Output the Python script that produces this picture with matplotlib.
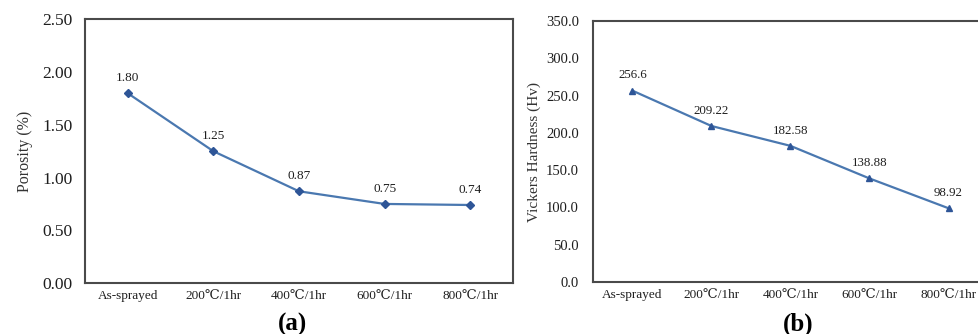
import matplotlib.pyplot as plt

categories = ['As-sprayed', '200\u2103/1hr', '400\u2103/1hr', '600\u2103/1hr', '800\u2103/1hr']
porosity = [1.80, 1.25, 0.87, 0.75, 0.74]
porosity_labels = ['1.80', '1.25', '0.87', '0.75', '0.74']
hardness = [256.6, 209.22, 182.58, 138.88, 98.92]
hardness_labels = ['256.6', '209.22', '182.58', '138.88', '98.92']

serif = ['Liberation Serif', 'DejaVu Serif']
plt.rcParams['font.family'] = serif

line_color = '#4a78b0'
marker_color = '#2e5597'
spine_color = '#4a4a4a'
text_color = '#1e1e1e'

fig = plt.figure(figsize=(9.79, 3.34), dpi=100)
ax_a = fig.add_axes([0.0868, 0.1527, 0.4372, 0.789])
ax_b = fig.add_axes([0.6057, 0.1557, 0.4035, 0.7813])


def style(ax, yticks, fmt, ysize, ypad):
    ax.set_xlim(-0.5, len(categories) - 0.5)
    ax.set_xticks(range(len(categories)))
    ax.set_xticklabels(categories, fontsize=9.5, color=text_color)
    ax.set_yticks(yticks)
    ax.set_yticklabels([fmt.format(v) for v in yticks], fontsize=ysize, color=text_color)
    ax.tick_params(axis='both', length=0)
    ax.tick_params(axis='y', pad=ypad)
    ax.tick_params(axis='x', pad=5)
    for s in ax.spines.values():
        s.set_color(spine_color)
        s.set_linewidth(1.5)


x = list(range(len(categories)))

ax_a.plot(x, porosity, color=line_color, lw=1.6, marker='D', ms=4.5,
          mfc=marker_color, mec=marker_color)
ax_a.set_ylim(0, 2.5)
style(ax_a, [0, 0.5, 1.0, 1.5, 2.0, 2.5], '{:.2f}', 12.5, 9)
ax_a.set_ylabel('Porosity (%)', fontsize=11.5, color='#333333', labelpad=7)
for xi, yi, lab in zip(x, porosity, porosity_labels):
    ax_a.annotate(lab, (xi, yi), xytext=(0, 11), textcoords='offset points',
                  ha='center', va='center', fontsize=9.5, color=text_color)

ax_b.plot(x, hardness, color=line_color, lw=1.6, marker='^', ms=5,
          mfc=marker_color, mec=marker_color)
ax_b.set_ylim(0, 350)
style(ax_b, [0, 50, 100, 150, 200, 250, 300, 350], '{:.1f}', 10.5, 10)
ax_b.set_ylabel('Vickers Hardness (Hv)', fontsize=11, color='#333333', labelpad=4)
for xi, yi, lab in zip(x, hardness, hardness_labels):
    ax_b.annotate(lab, (xi, yi), xytext=(0, 11), textcoords='offset points',
                  ha='center', va='center', fontsize=9.3, color=text_color)

fig.text(293 / 979, 1 - 324 / 334, '(a)', ha='center', va='center',
         fontsize=18, fontweight='bold')
fig.text(798 / 979, 1 - 324 / 334, '(b)', ha='center', va='center',
         fontsize=18, fontweight='bold')

fig.savefig('out.png', dpi=100)
